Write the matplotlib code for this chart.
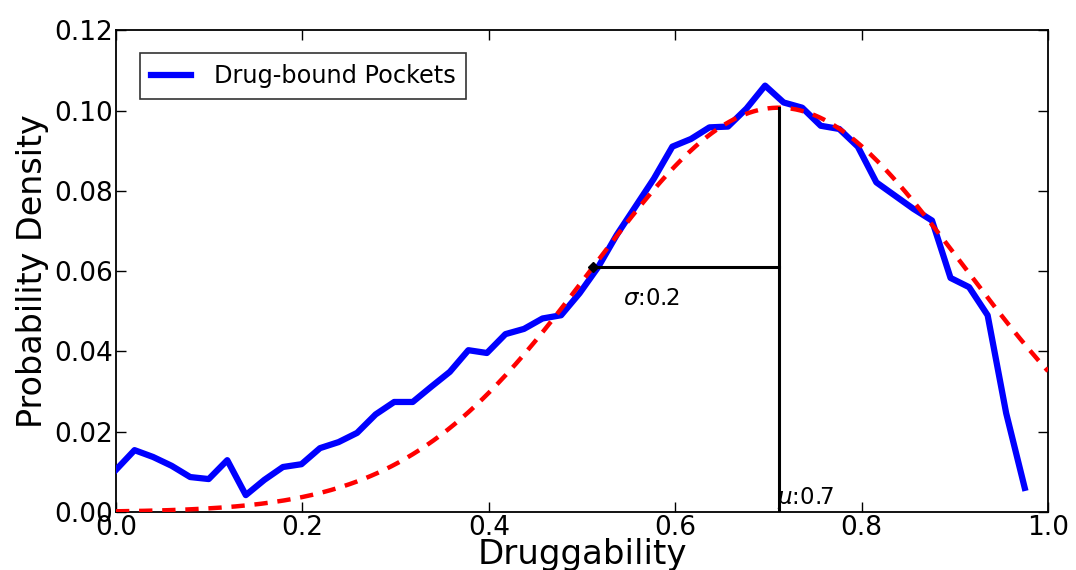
import numpy as np
import matplotlib
matplotlib.use("Agg")
import matplotlib.pyplot as plt

# Data
x_blue = np.linspace(0.0, 0.975, 50)
y_blue = [0.0105, 0.0154, 0.0137, 0.0115, 0.0087, 0.0082, 0.0129, 0.0042, 0.0080, 0.0112,
          0.0119, 0.0159, 0.0174, 0.0197, 0.0243, 0.0274, 0.0274, 0.0312, 0.0349, 0.0403,
          0.0396, 0.0443, 0.0456, 0.0482, 0.0490, 0.0545, 0.0610, 0.0690, 0.0760, 0.0830,
          0.0910, 0.0929, 0.0958, 0.0960, 0.1005, 0.1062, 0.1020, 0.1007, 0.0962, 0.0954,
          0.0910, 0.0821, 0.0788, 0.0755, 0.0726, 0.0583, 0.0560, 0.0490, 0.0246, 0.0060]

# Gaussian fit parameters (annotated in the chart)
mu = 0.711
sigma = 0.199
peak = 0.1007

xticks = [0.0, 0.2, 0.4, 0.6, 0.8, 1.0]
yticks = [0.00, 0.02, 0.04, 0.06, 0.08, 0.10, 0.12]

fig = plt.figure(figsize=(10.76, 5.70), dpi=100)
ax = fig.add_axes([0.1078, 0.1018, 0.8662, 0.8452])

ax.plot(x_blue, y_blue, color='#0000ff', lw=4.5, label='Drug-bound Pockets', zorder=3)

xg = np.linspace(0, 1, 400)
yg = peak * np.exp(-0.5 * ((xg - mu) / sigma) ** 2)
ax.plot(xg, yg, color='#ff0000', lw=3.2, ls=(0, (3, 2.2)), zorder=4)

# sigma and mu markers
y_sig = peak * np.exp(-0.5)
ax.plot([mu - sigma, mu], [y_sig, y_sig], color='black', lw=2.2, zorder=5)
ax.plot([mu - sigma], [y_sig], marker='D', ms=5, color='black', zorder=6)
ax.plot([mu], [y_sig], marker='|', ms=6, mew=2, color='black', zorder=6)
ax.plot([mu, mu], [0, peak], color='black', lw=2.2, zorder=5)
ax.text(mu - sigma / 2 - 0.067, y_sig - 0.0078, r'$\sigma$:0.2', fontsize=16.5, ha='left', va='center')
ax.text(mu - 0.002, 0.0002, r'$\mu$:0.7', fontsize=16.5, ha='left', va='bottom')

ax.set_xlim(0, 1.0)
ax.set_ylim(0, 0.12)
ax.set_xticks(xticks)
ax.set_yticks(yticks)
ax.set_xticklabels(['%.1f' % t for t in xticks])
ax.set_yticklabels(['%.2f' % t for t in yticks])
ax.tick_params(direction='in', top=True, right=True, length=7, width=1, labelsize=19, pad=2)
for s in ax.spines.values():
    s.set_linewidth(1.3)

ax.set_xlabel('Druggability', fontsize=24.5, labelpad=-2)
ax.set_ylabel('Probability Density', fontsize=24, labelpad=4)

leg = ax.legend(loc='upper left', fontsize=17.3, handlelength=1.67, handletextpad=0.95,
                frameon=True, fancybox=False, borderpad=0.45, borderaxespad=0,
                bbox_to_anchor=(0.0258, 0.952))
leg.get_frame().set_edgecolor('black')
leg.get_frame().set_linewidth(1.2)

fig.savefig('out.png', dpi=100)
